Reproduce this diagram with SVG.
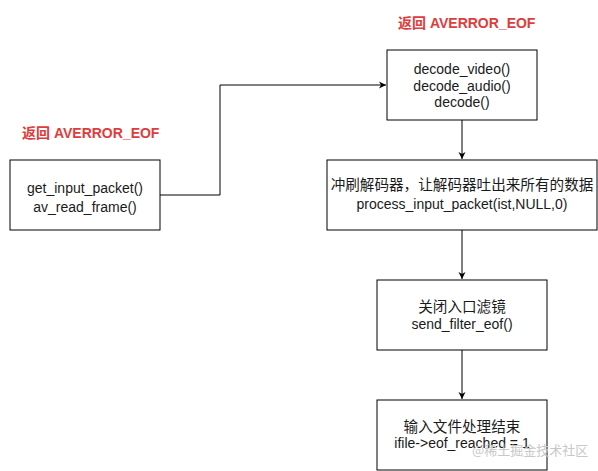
<svg xmlns="http://www.w3.org/2000/svg" width="598" height="471" viewBox="0 0 598 471">
<defs>
<style>
.box{fill:#fff;stroke:#000;stroke-width:1}
.t{font-family:"Liberation Sans","Noto Sans CJK SC",sans-serif;font-size:14px;fill:#1a1a1a;text-anchor:middle}
.c{font-size:14.6px}
.lbl{font-family:"Liberation Sans","Noto Sans CJK SC",sans-serif;font-size:14px;font-weight:bold;fill:#e03c3c}
.edge{fill:none;stroke:#000;stroke-width:1}
.wm{font-family:"Noto Sans CJK SC",sans-serif;font-size:13px;fill:#c8c8c8}
</style>
<marker id="arr" markerWidth="10" markerHeight="10" refX="8" refY="5" orient="auto" markerUnits="userSpaceOnUse">
<path d="M1,1.5 L8,5 L1,8.5 L3,5 Z" fill="#000"/>
</marker>
</defs>
<rect width="598" height="471" fill="#fff"/>
<g id="connectors">
<path class="edge" d="M160,195 H220 V85 H386" marker-end="url(#arr)"/>
<path class="edge" d="M462,120 V159" marker-end="url(#arr)"/>
<path class="edge" d="M462,230 V279" marker-end="url(#arr)"/>
<path class="edge" d="M462,350 V399" marker-end="url(#arr)"/>
</g>
<g id="label1"><text class="lbl" x="22" y="138">返回 AVERROR_EOF</text></g>
<g id="label2"><text class="lbl" x="398" y="28">返回 AVERROR_EOF</text></g>
<g id="n1">
<rect class="box" x="10" y="160" width="150" height="70"/>
<text class="t" x="85" y="193">get_input_packet()</text>
<text class="t" x="85" y="212">av_read_frame()</text>
</g>
<g id="n2">
<rect class="box" x="387" y="50" width="150" height="70"/>
<text class="t" x="462" y="74">decode_video()</text>
<text class="t" x="462" y="91">decode_audio()</text>
<text class="t" x="462" y="107">decode()</text>
</g>
<g id="n3">
<rect class="box" x="327" y="160" width="270" height="70"/>
<text class="t c" x="462" y="190">冲刷解码器，让解码器吐出来所有的数据</text>
<text class="t" x="462" y="209">process_input_packet(ist,NULL,0)</text>
</g>
<g id="n4">
<rect class="box" x="377" y="280" width="170" height="70"/>
<text class="t c" x="462" y="312">关闭入口滤镜</text>
<text class="t" x="462" y="329">send_filter_eof()</text>
</g>
<g id="n5">
<rect class="box" x="377" y="400" width="170" height="70"/>
<text class="t c" x="462" y="432">输入文件处理结束</text>
<text class="t" x="462" y="448">ifile-&gt;eof_reached = 1</text>
</g>
<text class="wm" x="472" y="455">@稀土掘金技术社区</text>
</svg>
